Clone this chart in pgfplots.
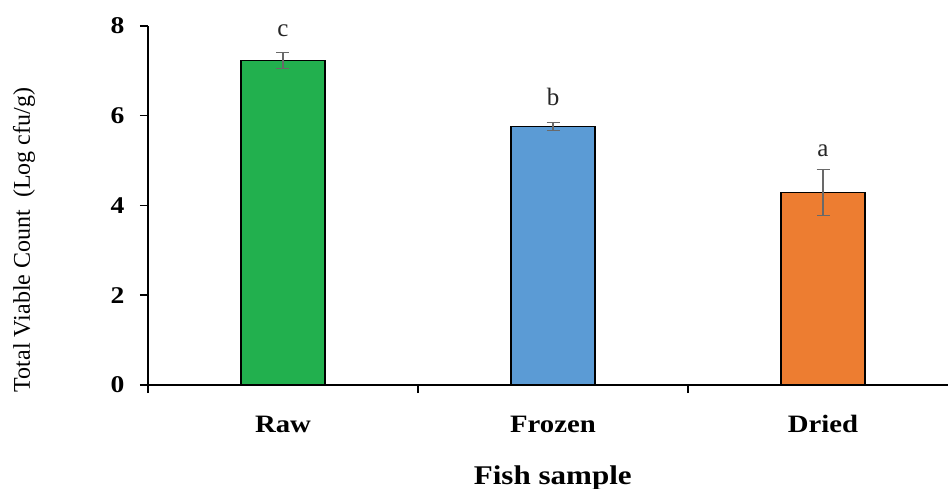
\documentclass[border=0pt]{standalone}
\usepackage{pgfplots}
\pgfplotsset{compat=1.18}
\usepackage{fontspec}
\setmainfont{Liberation Serif}
\newfontfamily\widefont{Liberation Serif}[FakeStretch=1.15]
\definecolor{rawgreen}{RGB}{34,176,78}
\definecolor{frozenblue}{RGB}{91,155,213}
\definecolor{driedorange}{RGB}{237,125,49}
\definecolor{errgray}{RGB}{105,105,105}
\begin{document}
\begin{tikzpicture}
\useasboundingbox (-148pt,-104pt) rectangle (801pt,385pt);
\begin{axis}[
  at={(0pt,0pt)}, anchor=south west,
  scale only axis, width=800pt, height=359pt,
  xmin=-0.5, xmax=2.463, ymin=0, ymax=8,
  axis x line*=bottom, axis y line*=left,
  axis line style={-, line width=1.5pt, black},
  xtick={-0.5,0.5,1.5},
  xticklabels={Raw,Frozen,Dried},
  ytick={0,2,4,6,8},
  yticklabels={0,2,4,6,8},
  tick style={line width=1.5pt, black},
  tick align=outside, major tick length=8pt,
  xticklabel style={font=\fontsize{25}{29}\selectfont\widefont\bfseries, anchor=base, yshift=-39pt, xshift=135pt},
  yticklabel style={font=\fontsize{24}{28}\selectfont\widefont\bfseries, anchor=east, xshift=-12pt},
  xlabel={Fish sample},
  xlabel style={at={(axis description cs:0.506,0)}, anchor=base, yshift=-99pt, font=\fontsize{27}{31}\selectfont\widefont\bfseries},
  ylabel={Total Viable Count\ \ (Log cfu/g)},
  ylabel style={at={(axis description cs:-0.155,0.404)}, anchor=center, font=\fontsize{24}{28}\selectfont},
  clip=false,
]
\addplot[ybar, bar width=84pt, bar shift=0pt, fill=rawgreen, draw=black, line width=1.2pt,
  error bars/.cd, y dir=both, y explicit,
  error bar style={errgray, line width=1.2pt},
  error mark options={rotate=90, mark size=6.5pt, errgray, line width=1.2pt}]
  coordinates {(0,7.23) +- (0,0.18)};
\addplot[ybar, bar width=84pt, bar shift=0pt, fill=frozenblue, draw=black, line width=1.2pt,
  error bars/.cd, y dir=both, y explicit,
  error bar style={errgray, line width=1.2pt},
  error mark options={rotate=90, mark size=6.5pt, errgray, line width=1.2pt}]
  coordinates {(1,5.76) +- (0,0.09)};
\addplot[ybar, bar width=84pt, bar shift=0pt, fill=driedorange, draw=black, line width=1.2pt,
  error bars/.cd, y dir=both, y explicit,
  error bar style={errgray, line width=1.2pt},
  error mark options={rotate=90, mark size=6.5pt, errgray, line width=1.2pt}]
  coordinates {(2,4.29) +- (0,0.51)};
\addplot[only marks, mark=none, point meta=explicit symbolic,
  nodes near coords, nodes near coords style={anchor=center, font=\fontsize{25}{29}\selectfont, text=black!85}]
  coordinates {(0,7.9) [c] (1,6.41) [b] (2,5.23) [a]};
\end{axis}
\end{tikzpicture}
\end{document}
